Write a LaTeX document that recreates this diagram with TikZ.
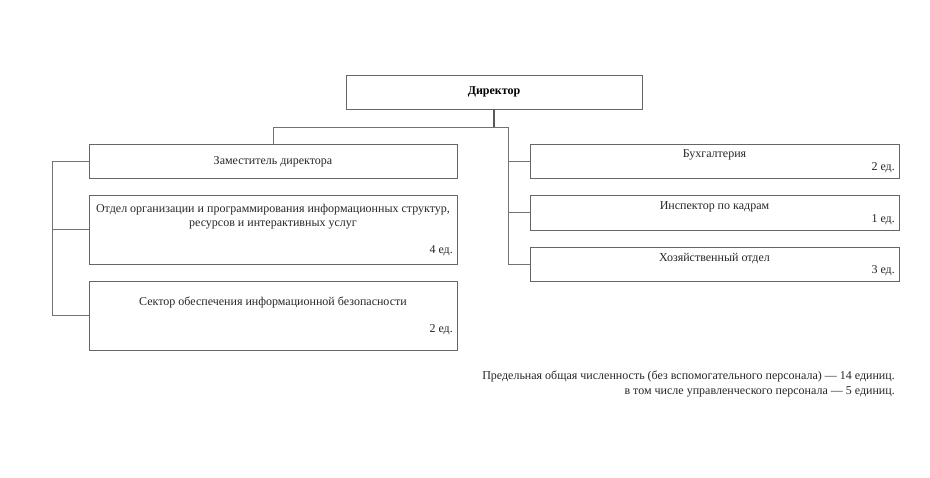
\documentclass[tikz,border=0pt]{standalone}
\usepackage{fontspec}
\setmainfont{Liberation Serif}
\begin{document}
\begin{tikzpicture}[x=1pt,y=-1pt,
  box/.style={draw=black!60, line width=0.9pt, rectangle, inner sep=0pt},
  conn/.style={draw=black!55, line width=0.9pt},
  lbl/.style={font=\fontsize{12}{14}\selectfont, inner sep=0pt, text=black!85},
  units/.style={font=\fontsize{12}{14}\selectfont, inner sep=0pt, anchor=east, text=black!85}]
\useasboundingbox (0,0) rectangle (930,478);
% Director
\node[box, minimum width=296pt, minimum height=34pt, font=\fontsize{12}{14}\selectfont\bfseries] (dir) at (494,92) {Директор};
% Left column
\node[box, minimum width=368pt, minimum height=34pt] (zam) at (273,161) {};
\node[lbl] (zamt) at (273,161.5) {Заместитель директора};
\node[box, minimum width=368pt, minimum height=69pt] (otd) at (273,229.5) {};
\node[lbl, align=center] (otdt) at (273,216.5) {Отдел организации и программирования информационных структур,\\ресурсов и интерактивных услуг};
\node[units] (otdu) at (453,251) {4 ед.};
\node[box, minimum width=368pt, minimum height=69pt] (sek) at (273,315.5) {};
\node[lbl] (sekt) at (273,302.5) {Сектор обеспечения информационной безопасности};
\node[units] (seku) at (453,330) {2 ед.};
% Right column
\node[box, minimum width=369pt, minimum height=34pt] (buh) at (714.5,161) {};
\node[lbl] (buht) at (714.5,154.5) {Бухгалтерия};
\node[units] (buhu) at (895,168) {2 ед.};
\node[box, minimum width=369pt, minimum height=35pt] (insp) at (714.5,212.5) {};
\node[lbl] (inspt) at (714.5,206.5) {Инспектор по кадрам};
\node[units] (inspu) at (895,220) {1 ед.};
\node[box, minimum width=369pt, minimum height=34pt] (hoz) at (714.5,264) {};
\node[lbl] (hozt) at (714.5,258.5) {Хозяйственный отдел};
\node[units] (hozu) at (895,271) {3 ед.};
% Connectors
\coordinate (jl) at (273,127);
\coordinate (jr) at (508,127);
\coordinate (lb) at (52,161);
\draw[conn, line width=1.3pt, draw=black!65] (dir.south) -- (dir.south |- jl);
\draw[conn] (zam.north) -- (jl) -- (jr) |- (hoz.west);
\draw[conn] (jr |- buh.west) -- (buh.west);
\draw[conn] (jr |- insp.west) -- (insp.west);
\draw[conn] (zam.west) -- (lb) |- (sek.west);
\draw[conn] (lb |- otd.west) -- (otd.west);
% Footer
\node[lbl, align=right, anchor=north east, font=\fontsize{12}{15}\selectfont] (foot) at (895,371) {Предельная общая численность (без вспомогательного персонала) — 14 единиц.\\в том числе управленческого персонала — 5 единиц.};
\end{tikzpicture}
\end{document}
